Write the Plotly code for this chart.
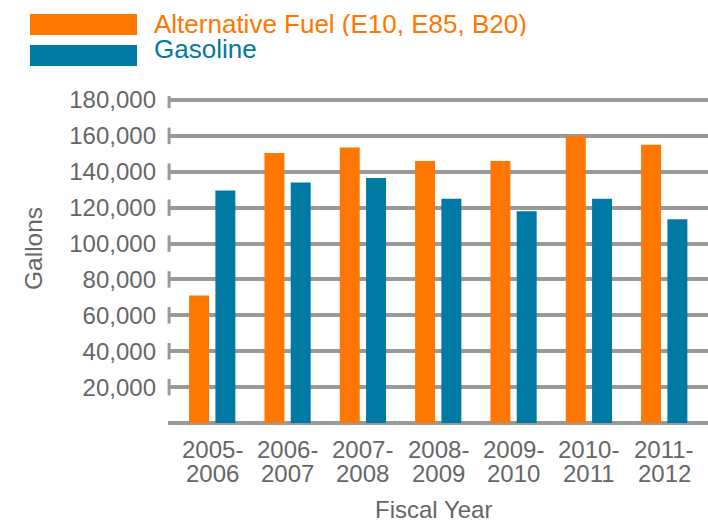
import plotly.graph_objects as go

# ---- data ----
fiscal_year_start = ["2005-", "2006-", "2007-", "2008-", "2009-", "2010-", "2011-"]
fiscal_year_end = ["2006", "2007", "2008", "2009", "2010", "2011", "2012"]
alt_fuel = [71000, 150500, 153500, 146000, 146000, 160000, 155000]
gasoline = [129500, 134000, 136500, 125000, 118000, 125000, 113500]
y_ticks = [20000, 40000, 60000, 80000, 100000, 120000, 140000, 160000, 180000]
series_names = ["Alternative Fuel (E10, E85, B20)", "Gasoline"]
x_title = "Fiscal Year"
y_title = "Gallons"

ORANGE = "#FF7600"
BLUE = "#0079A4"
GRID = "#999999"
TEXT = "#666666"
FONT = "Liberation Sans"

idx = list(range(len(fiscal_year_start)))

fig = go.Figure()
fig.add_trace(go.Bar(x=idx, y=alt_fuel, name=series_names[0], marker_color=ORANGE,
                     width=0.265, offset=-0.308, marker_line_width=0))
fig.add_trace(go.Bar(x=idx, y=gasoline, name=series_names[1], marker_color=BLUE,
                     width=0.265, offset=0.041, marker_line_width=0))

L, T, B = 168, 96, 100
W, H = 708, 523
xr = [-0.588, 6.58]
fig.update_layout(
    width=W, height=H,
    margin=dict(l=L, r=0, t=T, b=B, pad=0),
    paper_bgcolor="white", plot_bgcolor="white",
    showlegend=False,
    barmode="overlay",
    font=dict(family=FONT, color=TEXT, size=24),
    xaxis=dict(range=xr, tickmode="array", tickvals=idx, showticklabels=False,
               showgrid=False, zeroline=False, showline=False, ticks=""),
    yaxis=dict(range=[0, 182230], tickmode="array", tickvals=y_ticks,
               ticktext=[f"{v:,}" for v in y_ticks],
               showgrid=True, gridcolor=GRID, gridwidth=4,
               zeroline=True, zerolinecolor=GRID, zerolinewidth=4,
               showline=False, ticks="", ticklabelstandoff=11,
               tickfont=dict(size=24, color=TEXT)),
)

# small vertical end caps on each gridline
for v in y_ticks:
    fig.add_shape(type="line", xref="paper", yref="y", x0=0.002, x1=0.002,
                  y0=v - 4600, y1=v + 4600, line=dict(color=GRID, width=3))


def px_x(p):
    return (p - L) / float(W - L)


def px_y(p):
    return 1 - (p - T) / float(H - T - B)


# two-line category labels under each group
for i, (a, b) in enumerate(zip(fiscal_year_start, fiscal_year_end)):
    for txt, yc in [(a, 448.5), (b, 472.5)]:
        fig.add_annotation(xref="x", yref="paper", x=i, y=px_y(yc), text=txt,
                           showarrow=False, xanchor="center", yanchor="middle",
                           height=24, font=dict(family=FONT, size=24, color=TEXT))

# axis titles
fig.add_annotation(xref="paper", yref="paper", x=px_x(433), y=px_y(509), text=x_title,
                   showarrow=False, xanchor="center", yanchor="middle",
                   font=dict(family=FONT, size=24, color=TEXT))
fig.add_annotation(xref="paper", yref="paper", x=px_x(33), y=px_y(249), text=y_title,
                   textangle=-90, showarrow=False, xanchor="center", yanchor="middle",
                   font=dict(family=FONT, size=24.5, color=TEXT))

# custom legend (large swatches with coloured text)
for name, color, top, bottom, tc in [(series_names[0], ORANGE, 14, 35, 23.5),
                                     (series_names[1], BLUE, 45, 66, 48.5)]:
    fig.add_shape(type="rect", xref="paper", yref="paper", x0=px_x(30), x1=px_x(137),
                  y0=px_y(bottom), y1=px_y(top), fillcolor=color, line=dict(width=0))
    fig.add_annotation(xref="paper", yref="paper", x=px_x(152), y=px_y(tc),
                       text=name, showarrow=False, xanchor="left", yanchor="middle",
                       height=25, font=dict(family=FONT, size=26, color=color))

fig.write_html("out.html", config={"displayModeBar": False},
               post_script="document.body.style.margin='0';document.body.style.padding='0';")
